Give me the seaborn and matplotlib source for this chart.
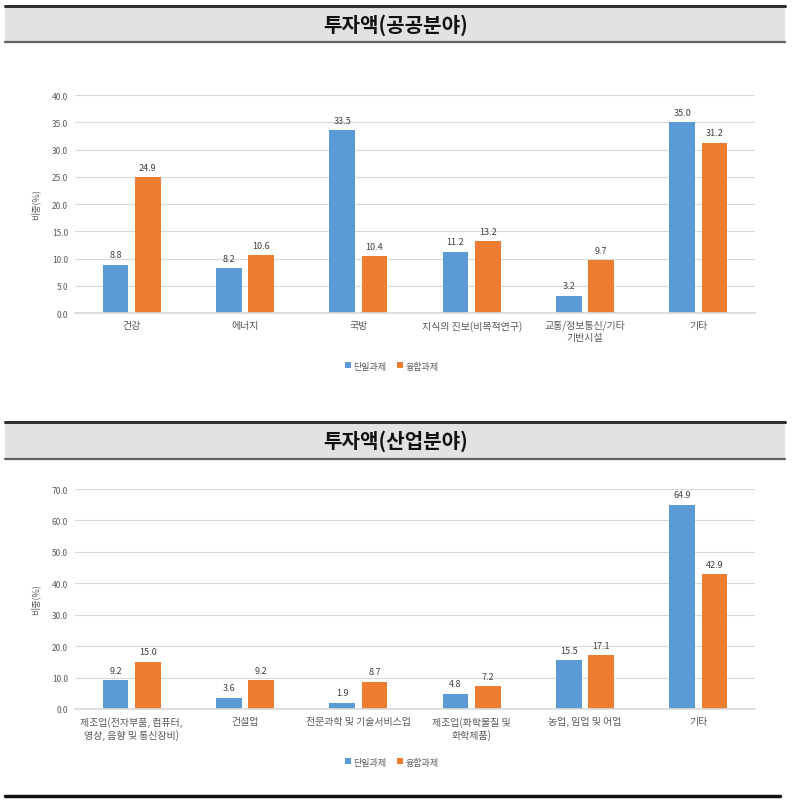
import matplotlib
matplotlib.use("Agg")
import matplotlib.pyplot as plt
import seaborn as sns
import pandas as pd
from matplotlib.patches import Rectangle
from matplotlib.lines import Line2D

sns.set_theme(style="white")
plt.rcParams['font.family'] = ['Noto Sans CJK KR', 'DejaVu Sans']

series = ["단일과제", "융합과제"]
colors = ["#5B9BD5", "#ED7D31"]

title1 = "투자액(공공분야)"
cats1 = ["건강", "에너지", "국방", "지식의 진보(비목적연구)", "교통/정보통신/기타\n기반시설", "기타"]
single1 = [8.8, 8.2, 33.5, 11.2, 3.2, 35.0]
fusion1 = [24.9, 10.6, 10.4, 13.2, 9.7, 31.2]
yticks1 = [0, 5, 10, 15, 20, 25, 30, 35, 40]

title2 = "투자액(산업분야)"
cats2 = ["제조업(전자부품, 컴퓨터,\n영상, 음향 및 통신장비)", "건설업", "전문과학 및 기술서비스업",
         "제조업(화학물질 및\n화학제품)", "농업, 임업 및 어업", "기타"]
single2 = [9.2, 3.6, 1.9, 4.8, 15.5, 64.9]
fusion2 = [15.0, 9.2, 8.7, 7.2, 17.1, 42.9]
yticks2 = [0, 10, 20, 30, 40, 50, 60, 70]

W, H = 792, 804
fig = plt.figure(figsize=(W / 100, H / 100), dpi=100)


def fx(x):
    return x / W


def fy(y):
    return 1 - y / H


def band(y_top, y_bot, text):
    fig.patches.append(Rectangle((fx(5), fy(y_bot)), fx(780), (y_bot - y_top) / H,
                                 transform=fig.transFigure, facecolor="#E2E2E2", edgecolor="none"))
    fig.add_artist(Line2D([fx(5), fx(785)], [fy(y_top), fy(y_top)], transform=fig.transFigure,
                          color="#303030", lw=2.2))
    fig.add_artist(Line2D([fx(5), fx(785)], [fy(y_bot), fy(y_bot)], transform=fig.transFigure,
                          color="#606060", lw=1.6))
    fig.text(0.5, fy((y_top + y_bot) / 2), text, ha="center", va="center",
             fontsize=14.5, fontweight="bold", color="#111111")


def chart(top, bottom, cats, s1, s2, yticks, legend_y):
    ax = fig.add_axes([fx(75), fy(bottom), fx(755 - 75), (bottom - top) / H])
    df = pd.DataFrame({
        "cat": cats * 2,
        "series": [series[0]] * len(cats) + [series[1]] * len(cats),
        "val": s1 + s2,
    })
    sns.barplot(data=df, x="cat", y="val", hue="series", palette=colors, order=cats,
                hue_order=series, width=0.57, gap=0.2, ax=ax, legend=True,
                saturation=1, linewidth=0)
    for cont in ax.containers:
        ax.bar_label(cont, fmt="%.1f", padding=4, fontsize=6.5, color="#404040")
    ax.set_ylim(yticks[0], yticks[-1])
    ax.set_yticks(yticks)
    ax.set_yticklabels([f"{v:.1f}" for v in yticks], fontsize=6, color="#595959")
    ax.tick_params(axis="x", labelsize=7.2, colors="#595959", length=0, pad=5)
    ax.tick_params(axis="y", length=0, pad=5)
    ax.yaxis.grid(True, color="#D9D9D9", lw=0.8)
    ax.set_axisbelow(True)
    for s in ["top", "right", "left"]:
        ax.spines[s].set_visible(False)
    ax.spines["bottom"].set_color("#D9D9D9")
    ax.set_xlabel("")
    ax.set_ylabel("비중(%)", fontsize=6.5, color="#595959", labelpad=8)
    handles, labels = ax.get_legend_handles_labels()
    ax.get_legend().remove()
    fig.legend(handles, labels, loc="center", bbox_to_anchor=(fx(392), fy(legend_y)),
               frameon=False, ncol=2, fontsize=6.5, handlelength=0.6, handleheight=0.6,
               handletextpad=0.3, columnspacing=1.2, labelcolor="#595959")
    return ax


band(7, 43, title1)
chart(96, 314, cats1, single1, fusion1, yticks1, 367)
band(423, 460, title2)
chart(490, 710, cats2, single2, fusion2, yticks2, 763)
fig.add_artist(Line2D([fx(5), fx(780)], [fy(797), fy(797)], transform=fig.transFigure,
                      color="#111111", lw=2.5))

fig.savefig("out.png", dpi=100, facecolor="white")
